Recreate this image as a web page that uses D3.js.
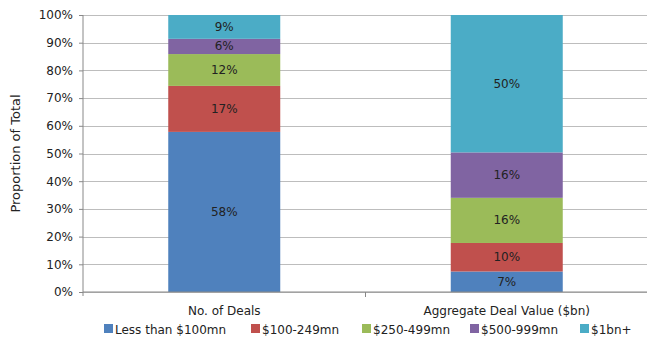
<html><head>
<script src="https://d3js.org/d3.v7.min.js"></script>
<style>
  body { margin: 0; background: #fff; }
  text { font-family: "DejaVu Sans", sans-serif; fill: #222; }
  .gridlines line { stroke: #bdbdbd; }
  .gridlines .domain { stroke: none; }
</style>
</head>
<body>
<svg id="chart" width="647" height="337"></svg>
<script>
// categories and series
const categories = ["No. of Deals", "Aggregate Deal Value ($bn)"];
const seriesNames = ["Less than $100mn", "$100-249mn", "$250-499mn", "$500-999mn", "$1bn+"];
const seriesColors = ["#4F81BD", "#C0504D", "#9BBB59", "#8064A2", "#4BACC6"];
const lessThan100 = [57.8, 7.4];
const from100to249 = [16.6, 10.3];
const from250to499 = [11.5, 16.3];
const from500to999 = [5.5, 16.4];
const over1bn = [8.6, 49.6];
const yTicks = [0, 10, 20, 30, 40, 50, 60, 70, 80, 90, 100];

let svg = d3.select("svg#chart");
const margins = {"top": 15, "right": -1, "bottom": 45, "left": 83};
const width = +svg.attr("width");
const height = +svg.attr("height");
const chartWidth = width - margins.left - margins.right;
const chartHeight = 337 - margins.top - margins.bottom - 0; // 277

const table = categories.map((c, i) => ({
  cat: c,
  "Less than $100mn": lessThan100[i],
  "$100-249mn": from100to249[i],
  "$250-499mn": from250to499[i],
  "$500-999mn": from500to999[i],
  "$1bn+": over1bn[i]
}));

const xScale = d3.scaleBand().domain(categories).range([0, chartWidth]);
const yScale = d3.scaleLinear().domain([0, 100]).range([chartHeight, 0]);
const colorScale = d3.scaleOrdinal().domain(seriesNames).range(seriesColors);

let plot = svg.append("g").attr("transform", "translate(" + margins.left + "," + margins.top + ")");

// gridlines
plot.append("g")
  .attr("class", "gridlines")
  .call(d3.axisLeft(yScale).tickValues(yTicks).tickFormat("").tickSize(-chartWidth))
  .selectAll("line").attr("shape-rendering", "crispEdges");

// stacked bars
const stack = d3.stack().keys(seriesNames)(table);
const barWidth = 112;
stack.forEach(layer => {
  let g = plot.append("g");
  layer.forEach(d => {
    const x = xScale(d.data.cat) + xScale.bandwidth() / 2 - barWidth / 2;
    g.append("rect")
      .attr("x", x)
      .attr("width", barWidth)
      .attr("y", yScale(d[1]))
      .attr("height", yScale(d[0]) - yScale(d[1]))
      .attr("fill", colorScale(layer.key));
    g.append("text")
      .attr("x", x + barWidth / 2)
      .attr("y", (yScale(d[0]) + yScale(d[1])) / 2)
      .attr("text-anchor", "middle")
      .attr("dominant-baseline", "central")
      .style("font-size", "12px")
      .text(Math.round(d[1] - d[0]) + "%");
  });
});

// y axis
let yAxis = plot.append("g")
  .call(d3.axisLeft(yScale).tickValues(yTicks).tickSize(4).tickPadding(6).tickFormat(d => d + "%"));
yAxis.selectAll("text").style("font-size", "12px").attr("fill", "#222");
yAxis.selectAll("line, path").attr("stroke", "#888");
yAxis.select(".domain").attr("d", "M0," + (chartHeight + 4) + "V0");

// x axis
let xAxis = plot.append("g").attr("transform", "translate(0," + chartHeight + ")");
xAxis.append("line").attr("x1", 0).attr("x2", chartWidth).attr("stroke", "#888");
xAxis.append("line").attr("x1", chartWidth / 2).attr("x2", chartWidth / 2)
  .attr("y1", 0).attr("y2", 5).attr("stroke", "#888");
categories.forEach(c => {
  xAxis.append("text")
    .attr("x", xScale(c) + xScale.bandwidth() / 2)
    .attr("y", 23)
    .attr("text-anchor", "middle")
    .style("font-size", "12px")
    .text(c);
});

// y title
svg.append("text")
  .attr("transform", "translate(20," + (margins.top + chartHeight / 2) + ") rotate(-90)")
  .attr("text-anchor", "middle")
  .style("font-size", "13px")
  .text("Proportion of Total");

// legend
const legendX = [104, 251, 362, 470, 580];
let legend = svg.append("g").attr("transform", "translate(0,324)");
seriesNames.forEach((s, i) => {
  legend.append("rect").attr("x", legendX[i]).attr("y", 0).attr("width", 9).attr("height", 9)
    .attr("fill", colorScale(s));
  legend.append("text").attr("x", legendX[i] + 11).attr("y", 9.5)
    .style("font-size", "12px").text(s);
});
</script>
</body>
</html>
